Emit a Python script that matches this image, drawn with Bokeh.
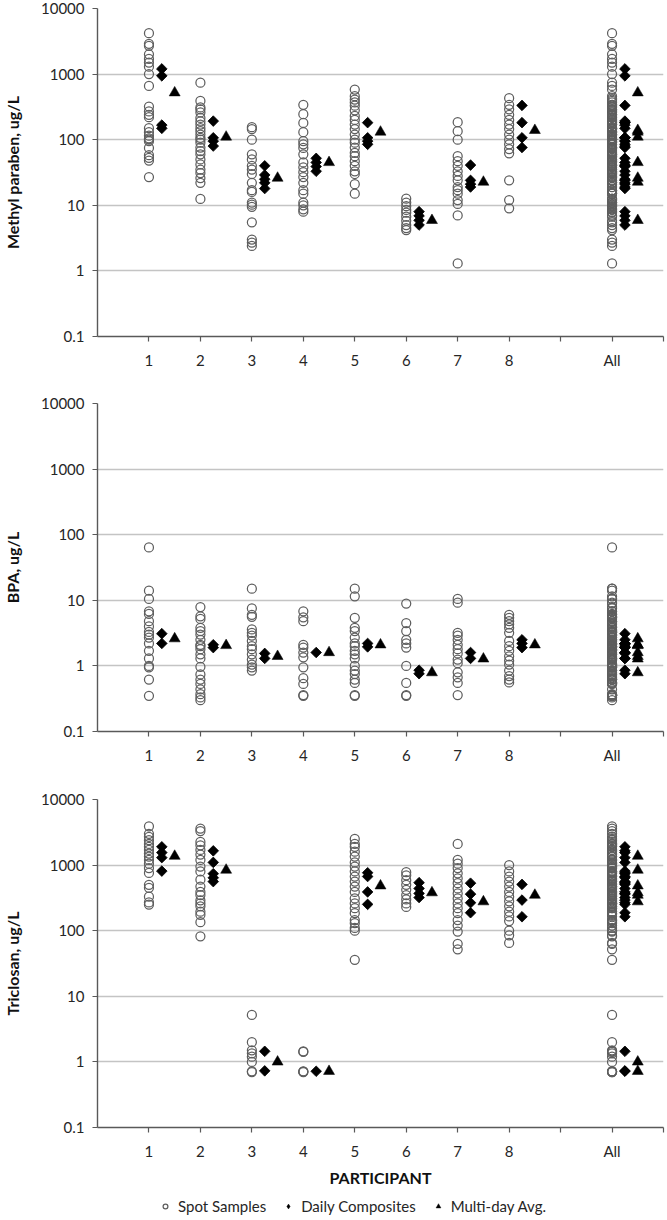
import math
from bokeh.plotting import figure
from bokeh.models import (FixedTicker, CustomJSTickFormatter, Range1d, Legend, LegendItem)
from bokeh.layouts import column
from bokeh.embed import file_html
from bokeh.resources import INLINE

FONT = "Lato"

# x tick labels (positions 1..11)
tick_labels = ["1", "2", "3", "4", "5", "6", "7", "8", "", "All", ""]
participants = [1, 2, 3, 4, 5, 6, 7, 8]

# ---------------- Methyl paraben (ug/L) ----------------
mp_spot = [
    [4200, 2900, 2700, 2000, 1700, 1500, 1300, 1000, 660, 320, 270, 240, 220, 150, 130, 115, 105, 100, 95, 75, 58, 53, 48, 27],
    [740, 390, 310, 290, 260, 215, 190, 170, 150, 135, 120, 107, 100, 90, 76, 67, 60, 50, 42, 35, 31, 26, 22, 12.5],
    [155, 145, 100, 60, 50, 40, 35, 30, 22, 17, 16, 11, 10.2, 9.5, 5.5, 3.0, 2.7, 2.4],
    [340, 245, 180, 130, 95, 85, 75, 60, 45, 38, 32, 27, 22, 17, 15, 11, 10, 8.7, 8.0],
    [580, 460, 410, 370, 330, 280, 230, 200, 170, 145, 120, 100, 90, 76, 63, 56, 47, 40, 33, 30, 21, 15],
    [12.6, 11, 9.7, 8.5, 7.7, 6.7, 5.8, 5.0, 4.5, 4.2],
    [185, 135, 100, 56, 47, 40, 33, 28, 24, 19, 17, 15, 12, 10.5, 7, 1.3],
    [430, 340, 290, 240, 200, 170, 145, 120, 100, 85, 72, 62, 24, 12, 9],
]
mp_daily = [
    [1200, 940, 167, 149], [192, 107, 95, 80], [40, 29, 25, 22, 18], [52, 45, 39, 33],
    [182, 107, 95, 85], [8.0, 6.9, 5.9, 5.0], [41, 24, 21, 19], [333, 182, 107, 76],
]
mp_avg = [520, 110, 26, 45, 131, 5.9, 22.6, 139]

# ---------------- BPA (ug/L) ----------------
bpa_spot = [
    [64, 14, 10.5, 6.8, 6.2, 4.8, 4.0, 3.3, 3.0, 2.7, 2.2, 1.7, 1.3, 1.0, 0.95, 0.62, 0.35],
    [7.9, 5.7, 5.2, 3.8, 3.4, 3.0, 2.5, 2.1, 2.0, 1.8, 1.5, 1.3, 0.97, 0.74, 0.62, 0.53, 0.44, 0.37, 0.33, 0.3],
    [15, 7.5, 6.0, 5.6, 3.6, 3.2, 2.9, 2.4, 2.0, 1.8, 1.5, 1.25, 1.05, 0.95, 0.85],
    [6.8, 5.5, 4.8, 2.1, 1.9, 1.6, 1.35, 0.95, 0.65, 0.53, 0.36, 0.35],
    [15, 11.5, 5.4, 3.8, 3.4, 2.7, 2.2, 2.0, 1.7, 1.5, 1.3, 1.0, 0.85, 0.75, 0.62, 0.55, 0.36, 0.35],
    [8.9, 4.5, 3.4, 2.5, 2.2, 1.9, 1.0, 0.55, 0.36, 0.35],
    [10.5, 9.2, 3.2, 2.9, 2.5, 2.1, 1.8, 1.55, 1.25, 1.1, 0.8, 0.67, 0.55, 0.36],
    [6.0, 5.4, 4.8, 4.3, 3.8, 3.2, 2.4, 2.0, 1.7, 1.4, 1.2, 1.05, 0.85, 0.7, 0.62, 0.56],
]
bpa_daily = [
    [3.1, 2.2], [2.1, 1.9], [1.55, 1.3], [1.6], [2.2, 1.95], [0.86, 0.76], [1.6, 1.3], [2.5, 2.2, 1.9],
]
bpa_avg = [2.6, 2.05, 1.4, 1.6, 2.1, 0.79, 1.28, 2.1]

# ---------------- Triclosan (ug/L) ----------------
tcs_spot = [
    [3900, 3000, 2700, 2400, 2100, 1900, 1700, 1500, 1350, 1200, 1050, 900, 760, 500, 450, 330, 270, 250],
    [3600, 3300, 2250, 2000, 1700, 1450, 1200, 950, 800, 600, 470, 390, 350, 290, 260, 235, 195, 175, 135, 82],
    [5.2, 2.0, 1.5, 1.35, 1.2, 1.0, 0.72, 0.70],
    [1.45, 1.42, 0.72, 0.71, 0.70],
    [2500, 2100, 1900, 1600, 1350, 1100, 950, 800, 670, 560, 470, 390, 310, 260, 220, 185, 145, 130, 110, 100, 36],
    [780, 700, 590, 500, 420, 350, 300, 260, 230],
    [2100, 1200, 1050, 900, 750, 630, 530, 440, 370, 310, 260, 220, 185, 145, 120, 97, 63, 52],
    [1000, 800, 670, 560, 470, 390, 330, 280, 235, 195, 165, 140, 100, 85, 65],
]
tcs_daily = [
    [1900, 1550, 1300, 810], [1650, 1100, 740, 640, 560], [1.45, 0.73], [0.72],
    [765, 670, 390, 252], [540, 440, 370, 320], [530, 361, 267, 188], [508, 293, 163],
]
tcs_avg = [1370, 840, 1.0, 0.72, 484, 380, 277, 349]

legend_labels = ["Spot Samples", "Daily Composites", "Multi-day Avg."]

ALL_X = 10
D_OFF = 0.25
A_OFF = 0.5
W = 667

AXIS_COLOR = "#595959"
GRID_COLOR = "#c4c4c4"
TEXT_COLOR = "#262626"
CIRCLE_COLOR = "#5e5e5e"


def flatten(groups, offset):
    xs, ys = [], []
    for pid, vals in zip(participants, groups):
        xs += [pid + offset] * len(vals)
        ys += list(vals)
    # "All" column gathers every participant's values
    all_vals = [v for vals in groups for v in vals]
    xs += [ALL_X + offset] * len(all_vals)
    ys += all_vals
    return xs, ys


def spot_style(p, x, y, size=9):
    return p.scatter(x, y, marker="circle", size=size, fill_alpha=0,
                     line_color=CIRCLE_COLOR, line_width=1.25)


def daily_style(p, x, y, size=7.5):
    return p.scatter(x, y, marker="square", angle=math.pi / 4, size=size,
                     fill_color="black", line_color="black", line_width=0.8)


def avg_style(p, x, y, size=11):
    return p.scatter(x, y, marker="triangle", size=size, fill_color="black",
                     line_color="black", line_width=0.5)


def make_panel(ylabel, spot, daily, avg, height, bottom, last=False):
    p = figure(width=W, height=height, output_backend="svg", toolbar_location=None,
               y_axis_type="log", x_range=Range1d(0, 11), y_range=Range1d(0.1, 10000),
               min_border_left=97, min_border_right=4, min_border_top=8,
               min_border_bottom=bottom)
    p.outline_line_color = None
    p.background_fill_color = "white"
    p.border_fill_color = "white"

    p.xgrid.visible = False
    yt = FixedTicker(ticks=[0.1, 1, 10, 100, 1000, 10000])
    p.yaxis.ticker = yt
    p.ygrid.ticker = yt
    p.ygrid.grid_line_color = GRID_COLOR
    p.ygrid.grid_line_width = 1.5
    p.yaxis.formatter = CustomJSTickFormatter(
        code="return tick < 1 ? tick.toFixed(1) : tick.toFixed(0);")
    p.xaxis.ticker = FixedTicker(ticks=list(range(1, 12)))
    p.xaxis.formatter = CustomJSTickFormatter(
        args=dict(labels=tick_labels),
        code="const i = Math.round(tick) - 1; return (i >= 0 && i < labels.length) ? labels[i] : '';")

    for ax in (p.xaxis, p.yaxis):
        ax.axis_line_color = AXIS_COLOR
        ax.axis_line_width = 1.4
        ax.major_tick_line_color = AXIS_COLOR
        ax.major_tick_line_width = 1.2
        ax.minor_tick_line_color = None
        ax.major_tick_in = 0
        ax.major_label_text_font = FONT
        ax.major_label_text_font_size = "15px"
        ax.major_label_text_color = TEXT_COLOR
        ax.axis_label_text_font = FONT
        ax.axis_label_text_font_size = "16px"
        ax.axis_label_text_font_style = "bold"
        ax.axis_label_text_color = "#111111"
    p.xaxis.major_tick_out = 5
    p.xaxis.major_label_standoff = 9
    p.yaxis.major_tick_out = 5
    p.yaxis.major_label_standoff = 8
    p.yaxis.axis_label = ylabel
    p.yaxis.axis_label_standoff = 16

    sx, sy = flatten(spot, 0)
    spot_style(p, sx, sy)
    dx, dy = flatten(daily, D_OFF)
    daily_style(p, dx, dy)
    ax_, ay_ = flatten([[v] for v in avg], A_OFF)
    avg_style(p, ax_, ay_)

    if last:
        p.xaxis.axis_label = "PARTICIPANT"
        p.xaxis.axis_label_standoff = 5
    return p


p1 = make_panel("Methyl paraben, ug/L", mp_spot, mp_daily, mp_avg, 395, 59)
p2 = make_panel("BPA, ug/L", bpa_spot, bpa_daily, bpa_avg, 396, 60)
p3 = make_panel("Triclosan, ug/L", tcs_spot, tcs_daily, tcs_avg, 402, 66, last=True)

# legend strip (its glyph renderers hold one point placed off-canvas)
pl = figure(width=W, height=25, output_backend="svg", toolbar_location=None,
            x_range=Range1d(0, 1), y_range=Range1d(0, 1),
            x_axis_location=None, y_axis_location=None,
            min_border_left=0, min_border_right=0, min_border_top=0, min_border_bottom=0)
pl.outline_line_color = None
pl.xgrid.visible = False
pl.ygrid.visible = False
r1 = spot_style(pl, [-100], [-100], size=7)
r2 = pl.scatter([-100], [-100], marker="diamond", size=10, fill_color="black",
                line_color="black", line_width=0.5)
r3 = avg_style(pl, [-100], [-100], size=8)
legend = Legend(items=[LegendItem(label=legend_labels[0], renderers=[r1]),
                       LegendItem(label=legend_labels[1], renderers=[r2]),
                       LegendItem(label=legend_labels[2], renderers=[r3])],
                orientation="horizontal", location=(62, 3),
                label_text_font=FONT, label_text_font_size="15px",
                label_text_color=TEXT_COLOR,
                glyph_width=12, glyph_height=16, label_standoff=7, spacing=16,
                padding=0, margin=0, border_line_alpha=0, background_fill_alpha=0)
pl.add_layout(legend)

layout = column(p1, p2, p3, pl, spacing=0)
open("out.html", "w").write(file_html(layout, INLINE))
